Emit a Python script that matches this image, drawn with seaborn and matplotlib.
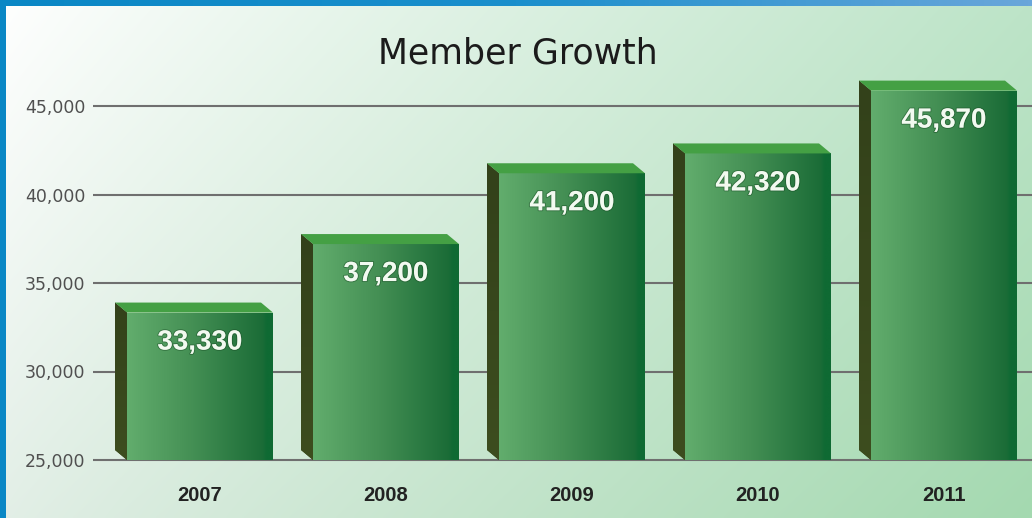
import numpy as np
import pandas as pd
import matplotlib
matplotlib.use("Agg")
import matplotlib.pyplot as plt
import matplotlib.patheffects as pe
from matplotlib.patches import Polygon, Rectangle
from matplotlib.colors import LinearSegmentedColormap, to_rgb
import seaborn as sns

# ---- data ----
years = ["2007", "2008", "2009", "2010", "2011"]
members = [33330, 37200, 41200, 42320, 45870]
y_ticks = [25000, 30000, 35000, 40000, 45000]
title = "Member Growth"

df = pd.DataFrame({"year": years, "members": members})

# ---- figure geometry (pixels) ----
W, H, DPI = 1032, 518, 100
AX_L, AX_R = 93, 1032           # left / right edge of the plotting area
AX_B, AX_T = 56, 512            # bottom / top edge of the plotting area (from bottom)
BASE_PX = 58                    # pixel row of the 25,000 baseline
PX_PER_5K = 88.5                # vertical pixels per 5,000 members
CAT_PX = 186                    # horizontal pixels between categories
FIRST_PX = 200                  # pixel column of the first category centre
DEPTH_DX, DEPTH_DY = -12, 10    # 3D depth offset in pixels

sns.set_theme(style="white")
plt.rcParams["font.family"] = ["DejaVu Sans"]

fig = plt.figure(figsize=(W / DPI, H / DPI), dpi=DPI)

# ---- backdrop: soft white-to-mint gradient with a blue frame ----
bg = fig.add_axes([0, 0, 1, 1], zorder=0)
bg.set_axis_off()
nx, ny = 320, 160
gx, gy = np.meshgrid(np.linspace(0, 1, nx), np.linspace(0, 1, ny))
c_tl = np.array(to_rgb("#ffffff"))
c_tr = np.array(to_rgb("#bde4c8"))
c_bl = np.array(to_rgb("#e3efe7"))
c_br = np.array(to_rgb("#a4d9b0"))
sx = gx ** 0.9
img = ((1 - sx) * (1 - gy))[..., None] * c_tl + (sx * (1 - gy))[..., None] * c_tr \
    + ((1 - sx) * gy)[..., None] * c_bl + (sx * gy)[..., None] * c_br
bg.imshow(img, extent=[0, 1, 0, 1], aspect="auto", origin="upper", interpolation="bilinear")
frame_cmap = LinearSegmentedColormap.from_list("frame", ["#0a87c5", "#1a8fcc", "#6aa6da"])
bg.imshow(np.linspace(0, 1, 256)[None, :], cmap=frame_cmap, extent=[0, 1, 1 - 6 / H, 1],
          aspect="auto", zorder=2)
bg.add_patch(Rectangle((0, 0), 6 / W, 1, color="#0a87c5", zorder=2, lw=0))
bg.set_xlim(0, 1)
bg.set_ylim(0, 1)

# ---- main axes ----
ax = fig.add_axes([AX_L / W, AX_B / H, (AX_R - AX_L) / W, (AX_T - AX_B) / H], zorder=1)
ax.patch.set_alpha(0)

units_per_px = 5000 / PX_PER_5K
y_lo = 25000 - (BASE_PX - AX_B) * units_per_px
y_hi = 25000 + (AX_T - BASE_PX) * units_per_px
x_lo = (AX_L - FIRST_PX) / CAT_PX
x_hi = (AX_R - FIRST_PX) / CAT_PX

sns.barplot(data=df, x="year", y="members", ax=ax, width=146 / CAT_PX,
            color="#3f8c50", saturation=1, zorder=3, linewidth=0, errorbar=None)

ax.set_xlim(x_lo, x_hi)
ax.set_ylim(y_lo, y_hi)

dx = DEPTH_DX / CAT_PX
dy = DEPTH_DY * units_per_px

front_cmap = LinearSegmentedColormap.from_list(
    "front", [(0.0, "#62ad6d"), (0.45, "#448f54"), (0.93, "#1b6c37"), (0.96, "#0f6a33"), (1.0, "#0f6a33")])
side_cmap = LinearSegmentedColormap.from_list("side", ["#33411a", "#3d4d1f"])
top_color = "#44a044"

grad = np.linspace(0, 1, 256)[None, :]
side_grad = np.linspace(0, 1, 64)[:, None]

for bar, val in zip(ax.patches, members):
    x0 = bar.get_x()
    w = bar.get_width()
    x1 = x0 + w
    # front face starts on the 25,000 baseline
    bar.set_y(25000)
    bar.set_height(val - 25000)
    im = ax.imshow(grad, cmap=front_cmap, extent=[x0, x1, 25000, val],
                   aspect="auto", zorder=3.2, interpolation="bilinear")
    im.set_clip_path(bar)
    # left side face
    side = Polygon([(x0, 25000), (x0, val), (x0 + dx, val + dy), (x0 + dx, 25000 + dy)],
                   closed=True, facecolor="#384819", edgecolor="none", zorder=3.3)
    ax.add_patch(side)
    sim = ax.imshow(side_grad, cmap=side_cmap, extent=[x0 + dx, x0, 25000, val + dy],
                    aspect="auto", zorder=3.31, interpolation="bilinear")
    sim.set_clip_path(side)
    # top face
    ax.add_patch(Polygon([(x0, val), (x1, val), (x1 + dx, val + dy), (x0 + dx, val + dy)],
                         closed=True, facecolor=top_color, edgecolor="none", zorder=3.4))
    # value label
    ax.annotate(f"{val:,}", xy=(x0 + w / 2, val), xytext=(0, -30), textcoords="offset pixels",
                ha="center", va="center", color="#f2faf0", fontsize=20, fontweight="bold",
                family=["Liberation Sans", "DejaVu Sans"], zorder=5,
                path_effects=[pe.withStroke(linewidth=1.4, foreground=(0.08, 0.28, 0.12, 0.45))])

ax.set_xlim(x_lo, x_hi)
ax.set_ylim(y_lo, y_hi)

# ---- axes styling ----
ax.set_axisbelow(True)
ax.yaxis.grid(True, color="#6f6f6f", linewidth=1.5)
ax.xaxis.grid(False)
for s in ax.spines.values():
    s.set_visible(False)
ax.set_yticks(y_ticks)
ax.set_yticklabels([f"{t:,}" for t in y_ticks], color="#505050", fontsize=12.5,
                   family=["DejaVu Sans"])
ax.set_xticks(range(len(years)))
ax.set_xticklabels(years, color="#222222", fontsize=14.5, fontweight="bold",
                   family=["Liberation Sans", "DejaVu Sans"])
ax.tick_params(axis="y", length=0, pad=5.5)
ax.tick_params(axis="x", length=0, pad=17)
ax.set_xlabel("")
ax.set_ylabel("")

fig.text(518 / W, 1 - 64 / H, title, ha="center", va="baseline", fontsize=25,
         color="#1b1b1b", family=["DejaVu Sans"])

fig.savefig("out.png", dpi=DPI)
